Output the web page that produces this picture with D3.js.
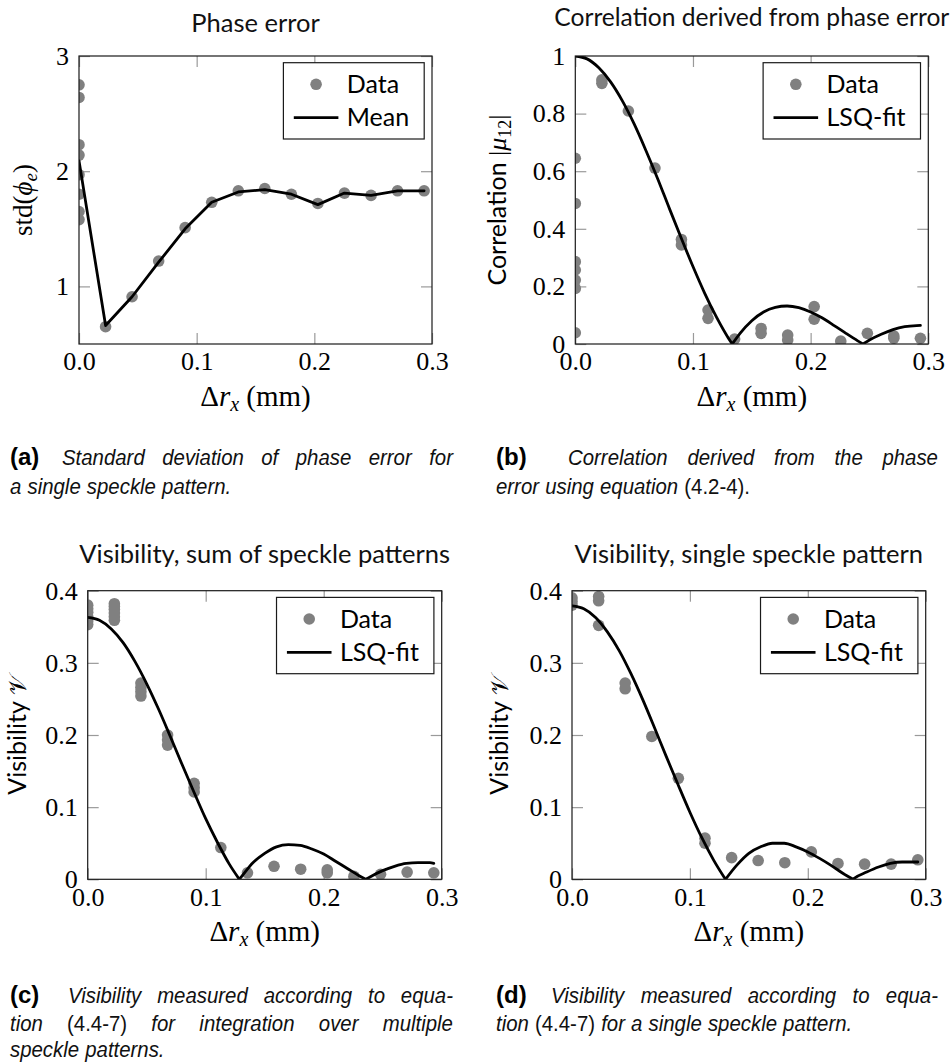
<!DOCTYPE html>
<html><head><meta charset="utf-8">
<script src="https://cdn.jsdelivr.net/npm/d3@7"></script>
<style>body{margin:0;background:#fff}svg{display:block;background:#fff}</style>
</head><body>
<svg id="chart" width="951" height="1062"></svg>
<script>
// ---------- data ----------
const xTicks = [0, 0.1, 0.2, 0.3];
const xTickLabels = ["0.0", "0.1", "0.2", "0.3"];
const sampleX = [0, 0.0226, 0.0451, 0.0677, 0.0902, 0.1128, 0.1354, 0.1579, 0.1805, 0.2030, 0.2256, 0.2482, 0.2707, 0.2933];

// (a) phase error
const phaseTicks = [1, 2, 3];
const phaseTickLabels = ["1", "2", "3"];
const phaseData = [
  [2.75, 2.64, 2.23, 2.14, 1.97, 1.80, 1.65, 1.58],
  [0.65], [0.91], [1.22], [1.51], [1.73], [1.83], [1.85], [1.80], [1.72], [1.81], [1.79], [1.83], [1.83]
];
const phaseMean = [2.09, 0.66, 0.91, 1.21, 1.50, 1.73, 1.82, 1.84, 1.80, 1.71, 1.81, 1.79, 1.83, 1.83];

// (b) correlation
const corrTicks = [0, 0.2, 0.4, 0.6, 0.8, 1];
const corrTickLabels = ["0", "0.2", "0.4", "0.6", "0.8", "1"];
const corrData = [
  [0.645, 0.488, 0.286, 0.257, 0.222, 0.193, 0.039],
  [0.917, 0.905], [0.809], [0.611], [0.363, 0.344], [0.118, 0.089], [0.017],
  [0.054, 0.037], [0.031, 0.014], [0.130, 0.086], [0.010], [0.037], [0.028, 0.020], [0.020]
];
const corrFitX = [0, 0.01, 0.02, 0.03, 0.04, 0.05, 0.06, 0.07, 0.08, 0.09, 0.10, 0.11, 0.12, 0.13, 0.1334,
  0.14, 0.15, 0.16, 0.17, 0.18, 0.19, 0.20, 0.21, 0.22, 0.23, 0.24, 0.2445, 0.25, 0.26, 0.27, 0.28, 0.29, 0.2933];
const corrFitY = [1, 0.990, 0.959, 0.910, 0.844, 0.764, 0.672, 0.574, 0.470, 0.368, 0.269, 0.176, 0.093, 0.021, 0,
  0.037, 0.081, 0.111, 0.127, 0.132, 0.126, 0.111, 0.090, 0.064, 0.037, 0.011, 0, 0.014, 0.034, 0.050, 0.060, 0.064, 0.0645];

// (c) visibility, sum of speckle patterns
const visTicks = [0, 0.1, 0.2, 0.3, 0.4];
const visTickLabels = ["0", "0.1", "0.2", "0.3", "0.4"];
const visSumData = [
  [0.380, 0.375, 0.370, 0.364, 0.358, 0.353],
  [0.382, 0.378, 0.374, 0.369, 0.364, 0.359],
  [0.272, 0.266, 0.260, 0.254], [0.200, 0.193, 0.186], [0.133, 0.127, 0.121],
  [0.044], [0.009], [0.018], [0.014], [0.013, 0.009], [0.004], [0.007], [0.010], [0.009]
];
const visSumFitX = [0, 0.01, 0.02, 0.03, 0.04, 0.05, 0.06, 0.07, 0.08, 0.09, 0.10, 0.11, 0.12, 0.1285,
  0.13, 0.14, 0.15, 0.16, 0.17, 0.18, 0.19, 0.20, 0.21, 0.22, 0.23, 0.2356, 0.24, 0.25, 0.26, 0.27, 0.28, 0.29, 0.2933];
const visSumFitY = [0.363, 0.359, 0.347, 0.328, 0.302, 0.271, 0.236, 0.198, 0.159, 0.121, 0.084, 0.051, 0.021, 0,
  0.003, 0.023, 0.036, 0.045, 0.048, 0.047, 0.042, 0.035, 0.025, 0.015, 0.005, 0, 0.004, 0.012, 0.018, 0.022, 0.023, 0.023, 0.022];

// (d) visibility, single speckle pattern
const visSingleData = [
  [0.390, 0.385, 0.380], [0.392, 0.386, 0.352], [0.272, 0.264], [0.198], [0.140],
  [0.057, 0.050], [0.030], [0.026], [0.023], [0.038], [0.022], [0.021], [0.021], [0.027]
];
const visSingleFitX = [0, 0.01, 0.02, 0.03, 0.04, 0.05, 0.06, 0.07, 0.08, 0.09, 0.10, 0.11, 0.12, 0.13, 0.1302,
  0.14, 0.15, 0.16, 0.17, 0.18, 0.19, 0.20, 0.21, 0.22, 0.23, 0.2384, 0.24, 0.25, 0.26, 0.27, 0.28, 0.29, 0.2933];
const visSingleFitY = [0.379, 0.375, 0.363, 0.343, 0.317, 0.285, 0.249, 0.210, 0.170, 0.131, 0.093, 0.058, 0.027, 0.0005, 0,
  0.020, 0.036, 0.045, 0.050, 0.050, 0.045, 0.038, 0.029, 0.019, 0.008, 0, 0.002, 0.010, 0.017, 0.022, 0.024, 0.024, 0.024];

// ---------- styles ----------
const SERIF = "'Liberation Serif', 'Times New Roman', serif";
const SANS = "Lato, 'Open Sans', sans-serif";
const CAP = "'Liberation Sans', Arial, sans-serif";
const DOT = "#808080";

const svg = d3.select("#chart");
let clipId = 0;

function xLabel(g, cx, baseline) {
  const t = g.append("text").attr("x", cx).attr("y", baseline).attr("text-anchor", "middle")
    .attr("font-family", SERIF).attr("font-size", 29);
  t.append("tspan").text("Δ");
  t.append("tspan").attr("font-style", "italic").text("r");
  t.append("tspan").attr("font-style", "italic").attr("font-size", 20).attr("dy", 5).text("x");
  t.append("tspan").attr("dy", -5).text(" (mm)");
}

function panel(cfg) {
  const g = svg.append("g");
  const x = d3.scaleLinear().domain([0, 0.3]).range([cfg.left, cfg.right]);
  const y = d3.scaleLinear().domain(cfg.yDomain).range([cfg.bottom, cfg.top]);

  const styleAxis = a => {
    a.select(".domain").remove();
    a.attr("font-family", null).attr("font-size", null);
    a.selectAll("line").attr("stroke", "#9a9a9a").attr("stroke-width", 1.2);
    a.selectAll("text").attr("fill", "#000").attr("font-family", SERIF).attr("font-size", 26);
  };
  g.append("g").attr("transform", `translate(0,${cfg.bottom})`)
    .call(d3.axisBottom(x).tickValues(xTicks).tickFormat((d, i) => xTickLabels[i]).tickSize(-11).tickPadding(8)).call(styleAxis);
  g.append("g").attr("transform", `translate(0,${cfg.top})`)
    .call(d3.axisTop(x).tickValues(xTicks).tickFormat(() => "").tickSize(-11)).call(styleAxis);
  g.append("g").attr("transform", `translate(${cfg.left},0)`)
    .call(d3.axisLeft(y).tickValues(cfg.yTicks).tickFormat((d, i) => cfg.yTickLabels[i]).tickSize(-11).tickPadding(10)).call(styleAxis);
  g.append("g").attr("transform", `translate(${cfg.right},0)`)
    .call(d3.axisRight(y).tickValues(cfg.yTicks).tickFormat(() => "").tickSize(-11)).call(styleAxis);

  const id = "clip" + (clipId++);
  svg.append("clipPath").attr("id", id).append("rect")
    .attr("x", cfg.left).attr("y", cfg.top).attr("width", cfg.right - cfg.left).attr("height", cfg.bottom - cfg.top);
  const plot = g.append("g").attr("clip-path", `url(#${id})`);

  const pts = [];
  cfg.data.forEach((vals, i) => vals.forEach(v => pts.push([sampleX[i], v])));
  plot.selectAll("circle").data(pts).join("circle")
    .attr("cx", d => x(d[0])).attr("cy", d => y(d[1])).attr("r", 5.8).attr("fill", DOT);

  let pathD;
  if (cfg.fitType === "linear") {
    pathD = d3.line().x(d => x(d[0])).y(d => y(d[1]))(cfg.lineX.map((xv, i) => [xv, cfg.lineY[i]]));
  } else {
    const segs = []; let cur = [];
    cfg.lineX.forEach((xv, i) => {
      cur.push([xv, cfg.lineY[i]]);
      if (cfg.lineY[i] === 0 && i > 0 && i < cfg.lineX.length - 1) { segs.push(cur); cur = [[xv, 0]]; }
    });
    segs.push(cur);
    const lg = d3.line().x(d => x(d[0])).y(d => y(d[1])).curve(d3.curveMonotoneX);
    pathD = segs.map(s => lg(s)).join("");
  }
  plot.append("path").attr("d", pathD).attr("fill", "none").attr("stroke", "#000")
    .attr("stroke-width", 2.8).attr("stroke-linejoin", "round").attr("stroke-linecap", "round");

  g.append("rect").attr("x", cfg.left).attr("y", cfg.top).attr("width", cfg.right - cfg.left)
    .attr("height", cfg.bottom - cfg.top).attr("fill", "none").attr("stroke", "#1a1a1a").attr("stroke-width", 1.2);

  // legend
  const leg = g.append("g");
  const by = cfg.top + 6.7, bh = 76.3;
  const t1 = leg.append("text").text("Data");
  const t2 = leg.append("text").text(cfg.lineName);
  [t1, t2].forEach(t => t.attr("font-family", SANS).attr("font-size", 25).attr("fill", "#000"));
  const tw = Math.max(t1.node().getComputedTextLength(), t2.node().getComputedTextLength());
  const bw = 63.4 + tw + 15;
  const bx = cfg.right - 7.8 - bw;
  leg.insert("rect", "text").attr("x", bx).attr("y", by).attr("width", bw).attr("height", bh)
    .attr("fill", "#fff").attr("stroke", "#1a1a1a").attr("stroke-width", 1.2);
  leg.append("circle").attr("cx", bx + 32.7).attr("cy", by + 21.6).attr("r", 5.8).attr("fill", DOT);
  leg.append("line").attr("x1", bx + 10.4).attr("x2", bx + 55).attr("y1", by + 55).attr("y2", by + 55)
    .attr("stroke", "#000").attr("stroke-width", 2.8);
  t1.attr("x", bx + 63.4).attr("y", by + 21.6 + 8.5);
  t2.attr("x", bx + 63.4).attr("y", by + 55 + 8.5);

  // title
  g.append("text").attr("x", (cfg.left + cfg.right) / 2).attr("y", cfg.titleY).attr("text-anchor", "middle")
    .attr("font-family", SANS).attr("font-size", cfg.titleSize || 25.5).attr("fill", "#111").text(cfg.title);

  // x label
  xLabel(g, (cfg.left + cfg.right) / 2, cfg.bottom + 62);

  // y label
  const yl = g.append("text").attr("text-anchor", "middle")
    .attr("transform", `translate(${cfg.yLabelX},${(cfg.top + cfg.bottom) / 2}) rotate(-90)`);
  cfg.yLabel(yl);
}

panel({
  left: 79, right: 432, top: 56, bottom: 344, yDomain: [0.5, 3],
  yTicks: phaseTicks, yTickLabels: phaseTickLabels, data: phaseData,
  fitType: "linear", lineX: sampleX, lineY: phaseMean, lineName: "Mean",
  title: "Phase error", titleY: 31.5, yLabelX: 32,
  yLabel: t => {
    t.attr("font-family", SERIF).attr("font-size", 27);
    t.append("tspan").text("std(");
    t.append("tspan").attr("font-style", "italic").text("ϕ");
    t.append("tspan").attr("font-style", "italic").attr("font-size", 19).attr("dy", 5).text("e");
    t.append("tspan").attr("dy", -5).text(")");
  }
});
panel({
  left: 575.3, right: 928.3, top: 56, bottom: 344, yDomain: [0, 1],
  yTicks: corrTicks, yTickLabels: corrTickLabels, data: corrData,
  fitType: "jinc", lineX: corrFitX, lineY: corrFitY, lineName: "LSQ-fit",
  title: "Correlation derived from phase error", titleY: 26, titleSize: 24.6, yLabelX: 506,
  yLabel: t => {
    t.append("tspan").attr("font-family", SANS).attr("font-size", 25).text("Correlation\u00a0");
    t.append("tspan").attr("font-family", SERIF).attr("font-size", 26).text("|");
    t.append("tspan").attr("font-family", SERIF).attr("font-size", 26).attr("font-style", "italic").text("μ");
    t.append("tspan").attr("font-family", SERIF).attr("font-size", 18).attr("dy", 5).text("12");
    t.append("tspan").attr("font-family", SERIF).attr("font-size", 26).attr("dy", -5).text("|");
  }
});
panel({
  left: 87.7, right: 441.7, top: 590.7, bottom: 879.3, yDomain: [0, 0.4],
  yTicks: visTicks, yTickLabels: visTickLabels, data: visSumData,
  fitType: "jinc", lineX: visSumFitX, lineY: visSumFitY, lineName: "LSQ-fit",
  title: "Visibility, sum of speckle patterns", titleY: 563, yLabelX: 26,
  yLabel: t => {
    t.append("tspan").attr("font-family", SANS).attr("font-size", 25).text("Visibility\u00a0");
    t.append("tspan").attr("font-family", SERIF).attr("font-size", 24).text("𝒱");
  }
});
panel({
  left: 572, right: 925.7, top: 590.7, bottom: 879.3, yDomain: [0, 0.4],
  yTicks: visTicks, yTickLabels: visTickLabels, data: visSingleData,
  fitType: "jinc", lineX: visSingleFitX, lineY: visSingleFitY, lineName: "LSQ-fit",
  title: "Visibility, single speckle pattern", titleY: 563, yLabelX: 508,
  yLabel: t => {
    t.append("tspan").attr("font-family", SANS).attr("font-size", 25).text("Visibility\u00a0");
    t.append("tspan").attr("font-family", SERIF).attr("font-size", 24).text("𝒱");
  }
});

// ---------- captions ----------
const capG = svg.append("g").attr("fill", "#111");
const CAPSIZE = 23;
const probe = capG.append("text").attr("font-family", CAP).attr("font-style", "italic").attr("font-size", CAPSIZE).text("a single speckle pattern.");
const SX = 220 / probe.node().getComputedTextLength();
probe.remove();

function words(ws, y) {
  return ws.map(w => capG.append("text").attr("font-family", CAP).attr("font-size", CAPSIZE)
    .attr("font-style", /^\(\d/.test(w) ? "normal" : "italic").text(w));
}
function place(t, x, y) { t.attr("transform", `translate(${x},${y}) scale(${SX},1)`); }
function justify(ws, x0, x1, y) {
  const n = words(ws, y);
  const wd = n.map(t => t.node().getComputedTextLength() * SX);
  const gap = (x1 - x0 - d3.sum(wd)) / (ws.length - 1);
  let x = x0; n.forEach((t, i) => { place(t, x, y); x += wd[i] + gap; });
}
function flow(ws, x0, y) {
  const n = words(ws, y);
  const gap = CAPSIZE * 0.3 * SX;
  let x = x0; n.forEach(t => { place(t, x, y); x += t.node().getComputedTextLength() * SX + gap; });
}
function label(s, x, y) {
  capG.append("text").attr("x", x).attr("y", y).attr("font-family", CAP)
    .attr("font-weight", "bold").attr("font-size", 24).attr("fill", "#000").text(s);
}

label("(a)", 10, 465);
justify(["Standard", "deviation", "of", "phase", "error", "for"], 62, 453, 465);
flow(["a", "single", "speckle", "pattern."], 10, 494);

label("(b)", 496, 465);
justify(["Correlation", "derived", "from", "the", "phase"], 568, 938, 465);
flow(["error", "using", "equation", "(4.2-4)."], 496, 494);

label("(c)", 10, 1003);
justify(["Visibility", "measured", "according", "to", "equa-"], 68, 453, 1003);
justify(["tion", "(4.4-7)", "for", "integration", "over", "multiple"], 10, 453, 1031);
flow(["speckle", "patterns."], 10, 1057);

label("(d)", 496, 1003);
justify(["Visibility", "measured", "according", "to", "equa-"], 551, 938, 1003);
flow(["tion", "(4.4-7)", "for", "a", "single", "speckle", "pattern."], 496, 1031);
</script>
</body></html>
